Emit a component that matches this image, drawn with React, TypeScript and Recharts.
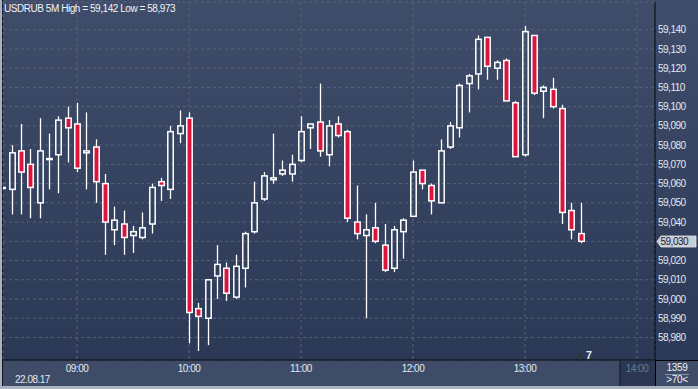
import React from "react";
import { ComposedChart, Bar, XAxis, YAxis, CartesianGrid } from "recharts";

// 5-minute candles, USDRUB, 22.08.17
const times = [
  "08:20", "08:25", "08:30", "08:35", "08:40", "08:45", "08:50", "08:55",
  "09:00", "09:05", "09:10", "09:15", "09:20", "09:25", "09:30", "09:35", "09:40", "09:45", "09:50", "09:55",
  "10:00", "10:05", "10:10", "10:15", "10:20", "10:25", "10:30", "10:35", "10:40", "10:45", "10:50", "10:55",
  "11:00", "11:05", "11:10", "11:15", "11:20", "11:25", "11:30", "11:35", "11:40", "11:45", "11:50", "11:55",
  "12:00", "12:05", "12:10", "12:15", "12:20", "12:25", "12:30", "12:35", "12:40", "12:45", "12:50", "12:55",
  "13:00", "13:05", "13:10", "13:15", "13:20", "13:25", "13:30",
];

const opens = [
  59.058, 59.057, 59.077, 59.07, 59.05, 59.073, 59.075, 59.094,
  59.091, 59.076, 59.079, 59.06, 59.036, 59.039, 59.033, 59.032, 59.039, 59.061, 59.057, 59.086,
  59.094, 58.995, 58.99, 59.012, 59.016, 59.001, 59.016, 59.035, 59.052, 59.062, 59.065, 59.065,
  59.072, 59.089, 59.092, 59.075, 59.091, 59.087, 59.04, 59.033, 59.037, 59.028, 59.016, 59.035,
  59.043, 59.067, 59.059, 59.05, 59.079, 59.089, 59.112, 59.117, 59.136, 59.12, 59.124, 59.102,
  59.075, 59.137, 59.108, 59.109, 59.099, 59.046, 59.034,
];

const highs = [
  59.059, 59.08, 59.091, 59.078, 59.094, 59.086, 59.095, 59.1,
  59.102, 59.097, 59.083, 59.065, 59.048, 59.046, 59.038, 59.045, 59.06, 59.063, 59.09, 59.098,
  59.097, 58.998, 59.01, 59.028, 59.019, 59.023, 59.035, 59.061, 59.066, 59.086, 59.072, 59.075,
  59.095, 59.091, 59.112, 59.093, 59.095, 59.088, 59.059, 59.044, 59.05, 59.039, 59.038, 59.042,
  59.072, 59.067, 59.06, 59.083, 59.092, 59.112, 59.117, 59.137, 59.136, 59.124, 59.125, 59.103,
  59.142, 59.137, 59.111, 59.115, 59.101, 59.05, 59.05,
];

const lows = [
  59.057, 59.044, 59.044, 59.042, 59.042, 59.057, 59.055, 59.071,
  59.066, 59.057, 59.05, 59.023, 59.028, 59.023, 59.024, 59.031, 59.034, 59.051, 59.052, 59.081,
  58.977, 58.973, 58.976, 59.0, 58.999, 59.0, 59.006, 59.034, 59.051, 59.06, 59.064, 59.061,
  59.071, 59.078, 59.074, 59.069, 59.084, 59.04, 59.031, 58.99, 59.029, 59.014, 59.014, 59.021,
  59.043, 59.057, 59.044, 59.05, 59.078, 59.084, 59.097, 59.109, 59.114, 59.114, 59.103, 59.074,
  59.074, 59.106, 59.094, 59.099, 59.039, 59.031, 59.029,
];

const closes = [
  59.058, 59.076, 59.066, 59.058, 59.077, 59.073, 59.093, 59.089,
  59.068, 59.077, 59.061, 59.04, 59.041, 59.032, 59.035, 59.037, 59.058, 59.059, 59.087, 59.09,
  58.993, 58.991, 59.01, 59.018, 59.003, 59.017, 59.034, 59.05, 59.064, 59.063, 59.067, 59.07,
  59.087, 59.091, 59.077, 59.09, 59.085, 59.042, 59.034, 59.036, 59.03, 59.015, 59.036, 59.041,
  59.066, 59.06, 59.051, 59.077, 59.09, 59.111, 59.116, 59.135, 59.121, 59.123, 59.103, 59.074,
  59.139, 59.107, 59.11, 59.1, 59.045, 59.036, 59.03,
];

const xTickLabels = ["09:00", "10:00", "11:00", "12:00", "13:00", "14:00"];
const yTicks = [58.98, 58.99, 59.0, 59.01, 59.02, 59.03, 59.04, 59.05, 59.06, 59.07, 59.08, 59.09, 59.1, 59.11, 59.12, 59.13, 59.14];

const FONT = "'Liberation Sans', Arial, sans-serif";

// bar index counted from 09:00 in 5 minute steps
const xOf = (t: string) => {
  const [hh, mm] = t.split(":").map(Number);
  return ((hh - 9) * 60 + mm) / 5;
};

const data = times.map((t, i) => ({ t, x: xOf(t), o: opens[i], h: highs[i], l: lows[i], c: closes[i] }));
const xTicks = xTickLabels.map(xOf);
const lastX = xTickLabels[xTickLabels.length - 1];
const lastPrice = closes[closes.length - 1];

const fmt = (v: number) => v.toFixed(3).replace(".", ",");

function Candle(props: any) {
  const { x, y, width, height, payload } = props;
  if (x == null || !payload) return null;
  const top = Math.min(y, y + height);
  const span = Math.abs(height);
  const range = payload.h - payload.l;
  const py = (v: number) => (range > 0 ? top + ((payload.h - v) / range) * span : top);
  const cx = Math.round(x + width / 2) + 0.5;
  const bodyTop = py(Math.max(payload.o, payload.c));
  const bh = Math.max(py(Math.min(payload.o, payload.c)) - bodyTop, 1);
  const down = payload.c < payload.o;
  return (
    <g>
      <line x1={cx} x2={cx} y1={py(payload.h)} y2={bodyTop} stroke="#fff" strokeWidth={1.3} />
      <line x1={cx} x2={cx} y1={bodyTop + bh} y2={py(payload.l)} stroke="#fff" strokeWidth={1.3} />
      <rect x={cx - 2.7} y={bodyTop} width={5.4} height={bh} fill={down ? "#dc143c" : "none"} stroke="#fff" strokeWidth={1.5} />
    </g>
  );
}

function XTick(props: any) {
  const { x, y, payload } = props;
  const label = xTickLabels[xTicks.indexOf(payload.value)];
  return (
    <text x={x} y={y} dy={11.5} textAnchor="middle" fontSize={10} fontFamily={FONT} letterSpacing="-0.5"
      fill={label === lastX ? "#6c7791" : "#e3e8f1"}>
      {label}
    </text>
  );
}

function YTick(props: any) {
  const { y, payload } = props;
  // the current-price box sits on top of this level
  if (Math.abs(payload.value - lastPrice) < 0.0005) return <g />;
  return (
    <text x={658} y={y} dy={3.6} textAnchor="start" fontSize={10} fontFamily={FONT} letterSpacing="-0.5" fill="#e3e8f1">
      {fmt(payload.value)}
    </text>
  );
}

const abs = (s: React.CSSProperties): React.CSSProperties => ({ position: "absolute", ...s });

export default function App() {
  return (
    <div style={abs({ left: 0, top: 0, width: 698, height: 389, overflow: "hidden", background: "#3f4c67", fontFamily: FONT })}>
      <div style={abs({ left: 0, top: 0, width: 698, height: 360, background: "linear-gradient(#3f4d6a, #2b3856)" })} />
      <div style={abs({ left: 619, top: 361, width: 36, height: 25, background: "#2c3853", borderLeft: "2px solid #232b3d", boxSizing: "border-box" })} />
      <div style={abs({ left: 655, top: 360, width: 1, height: 26, background: "#000" })} />
      <div style={abs({ left: 655, top: 360, width: 43, height: 1, background: "#000" })} />
      <div style={abs({ left: 0, top: 0, width: 2, height: 389, background: "#aab2c0" })} />
      <div style={abs({ left: 2, top: 0, width: 1, height: 386, background: "#10141c" })} />
      <div style={abs({ left: 0, top: 386, width: 698, height: 3, background: "#aab2c0" })} />

      <div style={abs({ left: 0, top: 0 })}>
        <ComposedChart width={698} height={389} data={data} margin={{ top: 2, right: 0, bottom: 0, left: 3 }}>
          <CartesianGrid strokeDasharray="3 3" stroke="#56637e" />
          <XAxis dataKey="x" type="number" domain={[-7.929, 61.929]} allowDataOverflow ticks={xTicks} interval={0}
            tick={<XTick />} tickLine={false} tickSize={0} tickMargin={0} axisLine={{ stroke: "#000" }} height={29} />
          <YAxis orientation="right" type="number" domain={[58.9683, 59.1544]} allowDataOverflow ticks={yTicks} interval={0}
            tick={<YTick />} tickLine={false} tickSize={0} axisLine={{ stroke: "#000" }} width={43} />
          <Bar dataKey={(d: any) => [d.l, d.h]} barSize={7} shape={<Candle />} isAnimationActive={false} />
        </ComposedChart>
      </div>

      <svg width={698} height={389} style={abs({ left: 0, top: 0 })}>
        <text x={4} y={12} fontSize={10} letterSpacing="-0.45" fill="#f2f4f8">
          USDRUB 5M High = 59,142 Low = 58,973
        </text>
        <text x={15} y={382.5} fontSize={10} letterSpacing="-0.5" fill="#e3e8f1">22.08.17</text>
        <path d="M657 241.5 L661 236 L696 236 L696 247 L661 247 Z" fill="#c9cdd5" stroke="#e4e6ea" strokeWidth={0.8} />
        <text x={660.5} y={245.2} fontSize={10} letterSpacing="-0.5" fill="#1b2236">{fmt(lastPrice)}</text>
        <path d="M576 357.5 L579.5 352.5 L583 357.5 Z" fill="#30343d" />
        <text x={586} y={359} fontSize={10.5} fontWeight="bold" fill="#eef1f6">7</text>
        <text x={677} y={370.5} fontSize={10} textAnchor="middle" letterSpacing="-0.3" fill="#eef1f6">1359</text>
        <line x1={665} x2={689} y1={374.5} y2={374.5} stroke="#8792a7" />
        <text x={677} y={383} fontSize={10} textAnchor="middle" letterSpacing="-0.3" fill="#eef1f6">&gt;70&lt;</text>
      </svg>
    </div>
  );
}
